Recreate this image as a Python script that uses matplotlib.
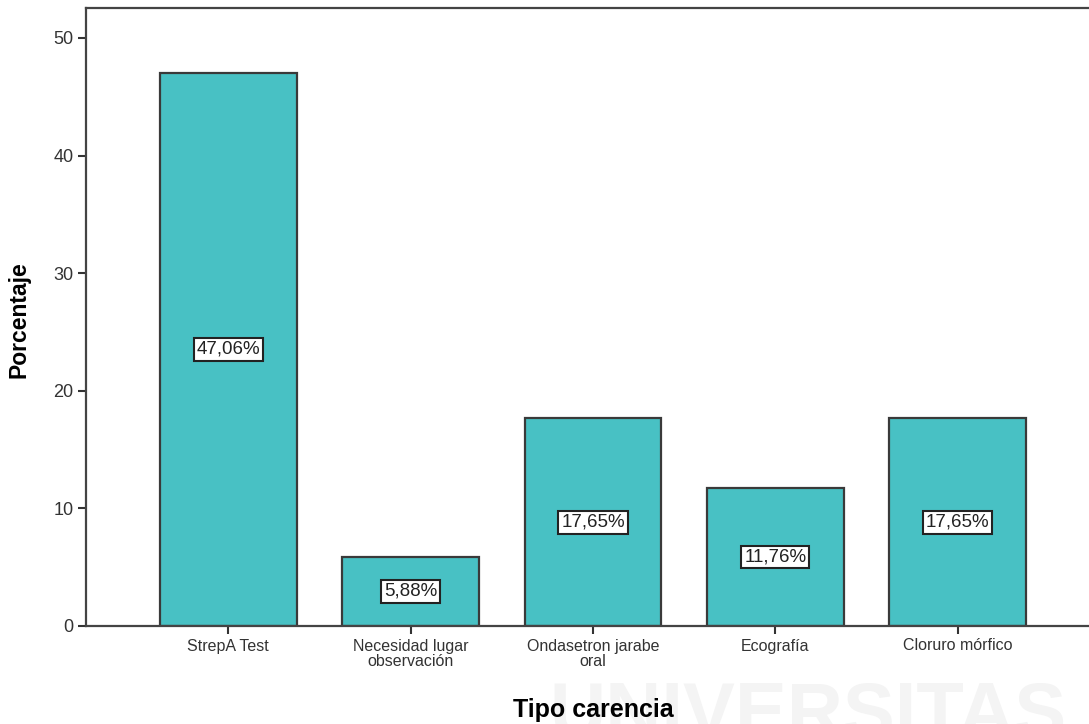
import matplotlib.pyplot as plt
import numpy as np

categories = ["StrepA Test", "Necesidad lugar\nobservación", "Ondasetron jarabe\noral",
              "Ecografía", "Cloruro mórfico"]
percentages = [47.06, 5.88, 17.65, 11.76, 17.65]
y_ticks = [0, 10, 20, 30, 40, 50]

plt.rcParams["font.family"] = ["Liberation Sans", "DejaVu Sans"]

fig = plt.figure(figsize=(10.89, 7.24), dpi=100)
ax = fig.add_axes([86 / 1089, 98 / 724, 1 - 86 / 1089, (626 - 8) / 724])

# faint watermark, drawn beneath the axes
fig.text(0.742, 0.061, "UNIVERSITAS", fontsize=56, fontweight="bold",
         color="#f4f4f4", ha="center", va="top", zorder=-1)

x = np.arange(len(categories))
ax.bar(x, percentages, width=0.75, color="#48c1c4", edgecolor="#3a3a3a",
       linewidth=1.6, zorder=2)

for xi, val in zip(x, percentages):
    ax.text(xi, val / 2, f"{val:.2f}%".replace(".", ","), ha="center", va="center",
            fontsize=13.5, color="#222222", zorder=3,
            bbox=dict(boxstyle="square,pad=0.15", facecolor="white",
                      edgecolor="#222222", linewidth=1.5))

ax.set_xlim(-0.78, 4.72)
ax.set_ylim(0, 52.55)
ax.set_yticks(y_ticks)
ax.set_xticks(x)
ax.set_xticklabels(categories, fontsize=11.5, color="#333333", linespacing=1.05)
ax.tick_params(axis="y", labelsize=13, colors="#333333", length=6, width=1.5, pad=3)
ax.tick_params(axis="x", length=6, width=1.5, colors="#333333", pad=3)

for side in ["left", "top", "bottom"]:
    ax.spines[side].set_color("#444444")
    ax.spines[side].set_linewidth(1.6)
ax.spines["right"].set_visible(False)

ax.set_ylabel("Porcentaje", fontsize=16.5, fontweight="bold")
ax.yaxis.set_label_coords(-0.055, (626 - 320) / 618)
ax.set_xlabel("Tipo carencia", fontsize=18, fontweight="bold")
ax.xaxis.set_label_coords((593 - 86) / 1003, -0.117)

fig.savefig("out.png", dpi=100)
